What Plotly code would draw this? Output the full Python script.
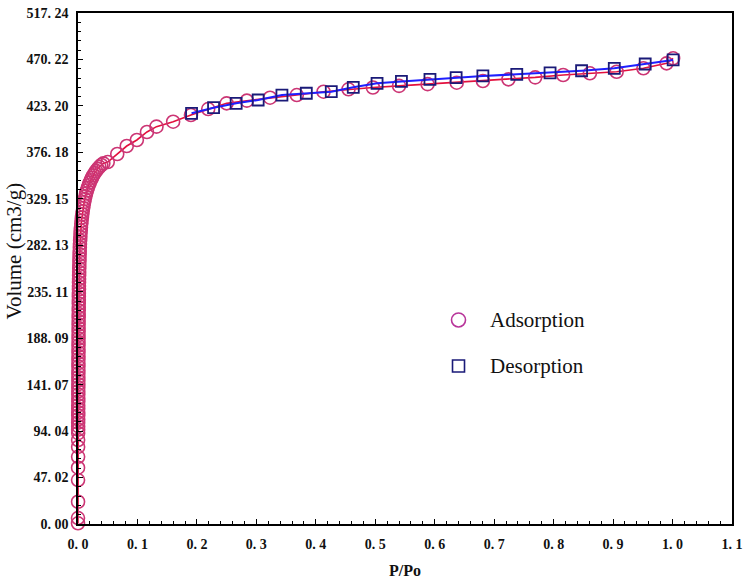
import plotly.graph_objects as go

# ---------------- data ----------------
ads_p = [0.0000, 0.0000, 0.0001, 0.0001, 0.0001, 0.0002, 0.0002, 0.0002,
         0.0003, 0.0003, 0.0003, 0.0003, 0.0004, 0.0004, 0.0004, 0.0004, 0.0004, 0.0005,
         0.0005, 0.0005, 0.0005, 0.0005, 0.0006, 0.0006, 0.0006, 0.0006, 0.0007, 0.0007,
         0.0007, 0.0007, 0.0008, 0.0008, 0.0008, 0.0008, 0.0009, 0.0009, 0.0009, 0.0010,
         0.0010, 0.0010, 0.0011, 0.0011, 0.0012, 0.0012, 0.0013, 0.0013, 0.0014, 0.0014,
         0.0015, 0.0016, 0.0016, 0.0017, 0.0018, 0.0019, 0.0020, 0.0021, 0.0022, 0.0024,
         0.0025, 0.0027, 0.0029, 0.0031, 0.0033, 0.0036, 0.0039, 0.0042, 0.0046, 0.0050,
         0.0055, 0.0060, 0.0066, 0.0072, 0.0079, 0.0087, 0.0095, 0.0104, 0.0114, 0.0125,
         0.0137, 0.0150, 0.0164, 0.0180, 0.0197, 0.0215, 0.0235, 0.0256, 0.0279, 0.0304,
         0.0331, 0.0360, 0.0392, 0.0426, 0.050,
         0.066, 0.082, 0.099, 0.116, 0.132, 0.160, 0.190, 0.219, 0.250, 0.284, 0.323,
         0.368, 0.413, 0.455, 0.496, 0.540, 0.588, 0.637, 0.681, 0.724, 0.769, 0.816,
         0.861, 0.906, 0.951, 0.990, 1.001]
ads_v = [0.7, 6.0, 22.5, 44.5, 57.0, 68.0, 78.0, 85.0,
         92.0, 95.5, 99.0, 102.6, 106.0, 109.8, 113.1, 116.7, 120.2, 123.9,
         127.3, 131.0, 134.4, 138.0, 141.5, 145.1, 148.6, 152.2, 155.7, 159.3,
         162.8, 166.4, 169.9, 173.5, 177.0, 180.6, 184.1, 187.7, 191.2, 194.8,
         198.3, 201.9, 205.4, 209.0, 212.5, 216.1, 219.6, 223.2, 226.7, 230.3,
         233.8, 237.4, 240.9, 244.5, 248.0, 251.6, 255.1, 258.7, 262.2, 265.8,
         269.3, 272.9, 276.4, 280.0, 283.5, 287.0, 290.4, 293.8, 297.1, 300.5,
         303.8, 307.0, 310.3, 313.5, 316.6, 319.8, 322.9, 325.9, 328.9, 331.8,
         334.7, 337.5, 340.2, 342.9, 345.5, 348.0, 350.5, 352.9, 355.2, 357.4,
         359.5, 361.5, 363.4, 365.0, 366.4,
         374.5, 382.6, 388.7, 396.8, 402.2, 407.2, 414.0, 420.0, 425.8, 428.5, 431.5,
         434.2, 437.6, 440.0, 441.8, 443.5, 445.2, 446.7, 448.4, 450.1, 452.1, 454.5,
         456.2, 457.8, 461.3, 466.3, 471.4]

des_p = [0.191, 0.228, 0.266, 0.303, 0.343, 0.384, 0.426, 0.463, 0.503, 0.544,
         0.592, 0.636, 0.681, 0.738, 0.794, 0.847, 0.902, 0.954, 1.001]
des_v = [415.7, 421.4, 425.8, 429.2, 434.2, 436.0, 437.6, 442.0, 446.1, 448.0,
         450.1, 451.8, 453.5, 455.2, 456.7, 458.8, 461.2, 465.6, 469.7]

y_tickvals = [0.0, 47.02, 94.04, 141.07, 188.09, 235.11, 282.13, 329.15, 376.18,
              423.20, 470.22, 517.24]
y_ticktext = ["0. 00", "47. 02", "94. 04", "141. 07", "188. 09", "235. 11", "282. 13",
              "329. 15", "376. 18", "423. 20", "470. 22", "517. 24"]
x_tickvals = [0.0, 0.1, 0.2, 0.3, 0.4, 0.5, 0.6, 0.7, 0.8, 0.9, 1.0, 1.1]
x_ticktext = ["0. 0", "0. 1", "0. 2", "0. 3", "0. 4", "0. 5", "0. 6", "0. 7",
              "0. 8", "0. 9", "1. 0", "1. 1"]

series_names = ["Adsorption", "Desorption"]

# ---------------- styles ----------------
ADS_LINE = "#e3103e"
ADS_MARK = "#cc3574"
DES_LINE = "#1f1fff"
DES_MARK = "#1a1a78"
TICKFONT = dict(family="Liberation Serif", size=14, color="#111111", weight="bold")

fig = go.Figure()
fig.add_trace(go.Scatter(
    x=ads_p, y=ads_v, mode="lines+markers", name=series_names[0],
    line=dict(color=ADS_LINE, width=1.6),
    marker=dict(symbol="circle-open", size=13, color=ADS_MARK, line=dict(width=1.6)),
    cliponaxis=False, showlegend=False))
fig.add_trace(go.Scatter(
    x=des_p, y=des_v, mode="lines+markers", name=series_names[1],
    line=dict(color=DES_LINE, width=2),
    marker=dict(symbol="square-open", size=11, color=DES_MARK, line=dict(width=1.8)),
    cliponaxis=False, showlegend=False))

y_minor = [i * 47.022 / 5 for i in range(56)]

fig.update_layout(
    width=749, height=583,
    margin=dict(l=78, r=17, t=13, b=59),
    paper_bgcolor="white", plot_bgcolor="white",
    xaxis=dict(range=[0, 1.1], tickmode="array", tickvals=x_tickvals, ticktext=x_ticktext,
               ticks="inside", ticklen=5, tickwidth=1.2, tickcolor="black",
               minor=dict(tickmode="array", tickvals=[i * 0.02 for i in range(56)],
                          ticks="inside", ticklen=3, tickwidth=1, tickcolor="black"),
               showline=True, linecolor="black", linewidth=1.6, mirror=True,
               showgrid=False, zeroline=False, tickfont=TICKFONT, automargin=False,
               ticklabelstandoff=6, ticklabeloverflow="allow",
               title=dict(text="P/Po", standoff=14,
                          font=dict(family="Liberation Serif", size=16, color="#111111",
                                    weight="bold"))),
    yaxis=dict(range=[0, 517.24], tickmode="array", tickvals=y_tickvals, ticktext=y_ticktext,
               ticks="inside", ticklen=5, tickwidth=1.2, tickcolor="black",
               minor=dict(tickmode="array", tickvals=y_minor,
                          ticks="inside", ticklen=3, tickwidth=1, tickcolor="black"),
               showline=True, linecolor="black", linewidth=1.6, mirror=True,
               showgrid=False, zeroline=False, tickfont=TICKFONT, automargin=False,
               ticklabelstandoff=5, ticklabeloverflow="allow"),
)

# y-axis title
fig.add_annotation(text="Volume (cm3/g)", xref="paper", yref="paper",
                   x=-0.098, y=0.535, textangle=-90, showarrow=False,
                   xanchor="center", yanchor="middle",
                   font=dict(family="Liberation Serif", size=21, color="#111111"))

# manual legend
leg_x_mark = 0.64
leg_x_text = 0.69
leg_y = [206.5, 159.9]
fig.add_shape(type="circle", xref="x", yref="y", xsizemode="pixel", ysizemode="pixel",
              xanchor=leg_x_mark, yanchor=leg_y[0], x0=-7, x1=7, y0=-7, y1=7,
              line=dict(color="#b8359a", width=1.6))
fig.add_shape(type="rect", xref="x", yref="y", xsizemode="pixel", ysizemode="pixel",
              xanchor=leg_x_mark, yanchor=leg_y[1], x0=-6, x1=6, y0=-6, y1=6,
              line=dict(color=DES_MARK, width=1.6))
for nm, yy in zip(series_names, leg_y):
    fig.add_annotation(text=nm, x=leg_x_text, y=yy, xref="x", yref="y",
                       xanchor="left", yanchor="middle", showarrow=False,
                       font=dict(family="Liberation Serif", size=21, color="#111111"))

# remove the browser's default 8 px body margin so the figure fills the window
fig.write_html("out.html", config={"displayModeBar": False},
               post_script="document.body.style.margin='0px';")
